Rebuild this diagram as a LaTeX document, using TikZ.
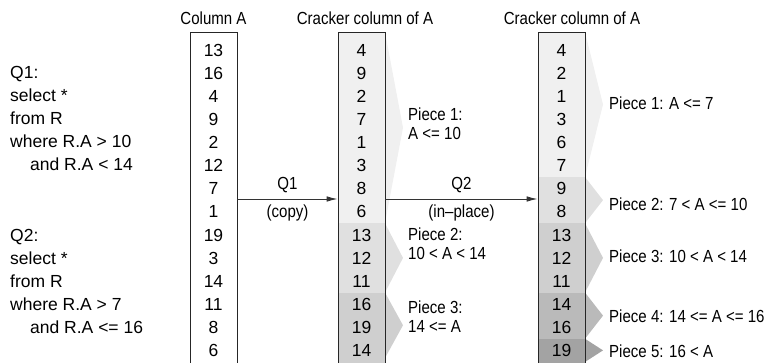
\documentclass[tikz,border=0pt]{standalone}
\usepackage{fontspec}
\setmainfont{Liberation Sans}
\newfontfamily\narrowsf[FakeStretch=0.86]{Liberation Sans}
\usetikzlibrary{arrows.meta}
\tikzset{
  >={Latex[length=11pt,width=5.5pt]},
}
\tikzstyle{every node}=[font=\narrowsf\fontsize{17.5}{19}\selectfont,inner sep=0pt]
\tikzstyle{cell}=[text height=12.5pt,text depth=0pt]
\tikzstyle{value}=[cell,font=\fontsize{17.5}{19}\selectfont]
\tikzstyle{query}=[cell,anchor=west,font=\fontsize{17.5}{19}\selectfont]
\tikzstyle{colframe}=[draw=black!85,line width=.8pt,minimum width=47pt,minimum height=340pt,anchor=north]
\tikzstyle{piecelbl}=[anchor=west,align=left]
\tikzstyle{flow}=[draw=black!80,line width=.9pt,->]
\colorlet{pcA}{black!6}
\colorlet{pcB}{black!12}
\colorlet{pcC}{black!19}
\colorlet{pcD}{black!27}
\colorlet{pcE}{black!36}
% piece fill and its wedge: x left, x right, top, bottom, colour
\newcommand{\crackpiece}[5]{%
  \fill[#5] (#1,#3) rectangle (#2,#4);
  \fill[#5] (#2,#3) -- ({#2+18},{(#3+#4)/2}) -- (#2,#4) -- cycle;}

\begin{document}
\begin{tikzpicture}[x=1pt,y=-1pt]
    \useasboundingbox (0,0) rectangle (766,363);
    % pieces of the cracker columns
    \crackpiece{338}{385}{32}{223.25}{pcA}
    \crackpiece{338}{385}{223.25}{292.55}{pcB}
    \crackpiece{338}{385}{292.55}{358}{pcC}
    \fill[pcC] (338,358) rectangle (385,370);
    \crackpiece{538}{585}{32}{177.05}{pcA}
    \crackpiece{538}{585}{177.05}{223.25}{pcB}
    \crackpiece{538}{585}{223.25}{292.55}{pcC}
    \crackpiece{538}{585}{292.55}{338.75}{pcD}
    \crackpiece{538}{585}{338.75}{362}{pcE}
    \fill[pcE] (538,362) rectangle (585,370);
    % frames
    \node[colframe] (colA) at (213.5,32) {};
    \node[colframe] (crk1) at (361.5,32) {};
    \node[colframe] (crk2) at (561.5,32) {};
    \node[cell] (tA) at (213.5,18) {Column A};
    \node[cell] (t1) at (365,18) {Cracker column of A};
    \node[cell] (t2) at (572,18) {Cracker column of A};
    % values
    \foreach \v [count=\i] in {13,16,4,9,2,12,7,1,19,3,14,11,8,6}
      \node[value] (a\i) at (213.5,{50+(\i-1)*23.1}) {\v};
    \foreach \v [count=\i] in {4,9,2,7,1,3,8,6,13,12,11,16,19,14}
      \node[value] (b\i) at (361.5,{50+(\i-1)*23.1}) {\v};
    \foreach \v [count=\i] in {4,2,1,3,6,7,9,8,13,12,11,14,16,19}
      \node[value] (c\i) at (561.5,{50+(\i-1)*23.1}) {\v};
    % queries
    \node[query] (q1a) at (10,72.1) {Q1:};
    \node[query] (q1b) at (10,95.2) {select *};
    \node[query] (q1c) at (10,118.3) {from R};
    \node[query] (q1d) at (10,141.4) {where R.A > 10};
    \node[query] (q1e) at (30,164.5) {and R.A < 14};
    \node[query] (q2a) at (10,234.8) {Q2:};
    \node[query] (q2b) at (10,257.9) {select *};
    \node[query] (q2c) at (10,281) {from R};
    \node[query] (q2d) at (10,304.1) {where R.A > 7};
    \node[query] (q2e) at (30,327.2) {and R.A <= 16};
    % cracking steps
    \coordinate (split) at (0,199);
    \draw[flow] (colA.east |- split) -- (crk1.west |- split)
      node[cell,midway,above=8.75pt] (q1) {Q1}
      node[cell,midway,below=5.75pt] (copy) {(copy)};
    \draw[flow] (crk1.east |- split) -- (crk2.west |- split)
      node[cell,midway,above=8.75pt] (q2) {Q2}
      node[cell,midway,below=5.75pt] (inplace) {(in\textendash place)};
    % piece labels
    \node[piecelbl] (p11) at (408,123.5) {Piece 1:\\A <= 10};
    \node[piecelbl] (p12) at (408,243.5) {Piece 2:\\10 < A < 14};
    \node[piecelbl] (p13) at (408,316.5) {Piece 3:\\14 <= A};
    \node[piecelbl,cell] (p21) at (609,103) {Piece 1: A <= 7};
    \node[piecelbl,cell] (p22) at (609,204) {Piece 2: 7 < A <= 10};
    \node[piecelbl,cell] (p23) at (609,256) {Piece 3: 10 < A < 14};
    \node[piecelbl,cell] (p24) at (609,316) {Piece 4: 14 <= A <= 16};
    \node[piecelbl,cell] (p25) at (609,351) {Piece 5: 16 < A};
\end{tikzpicture}
\end{document}
